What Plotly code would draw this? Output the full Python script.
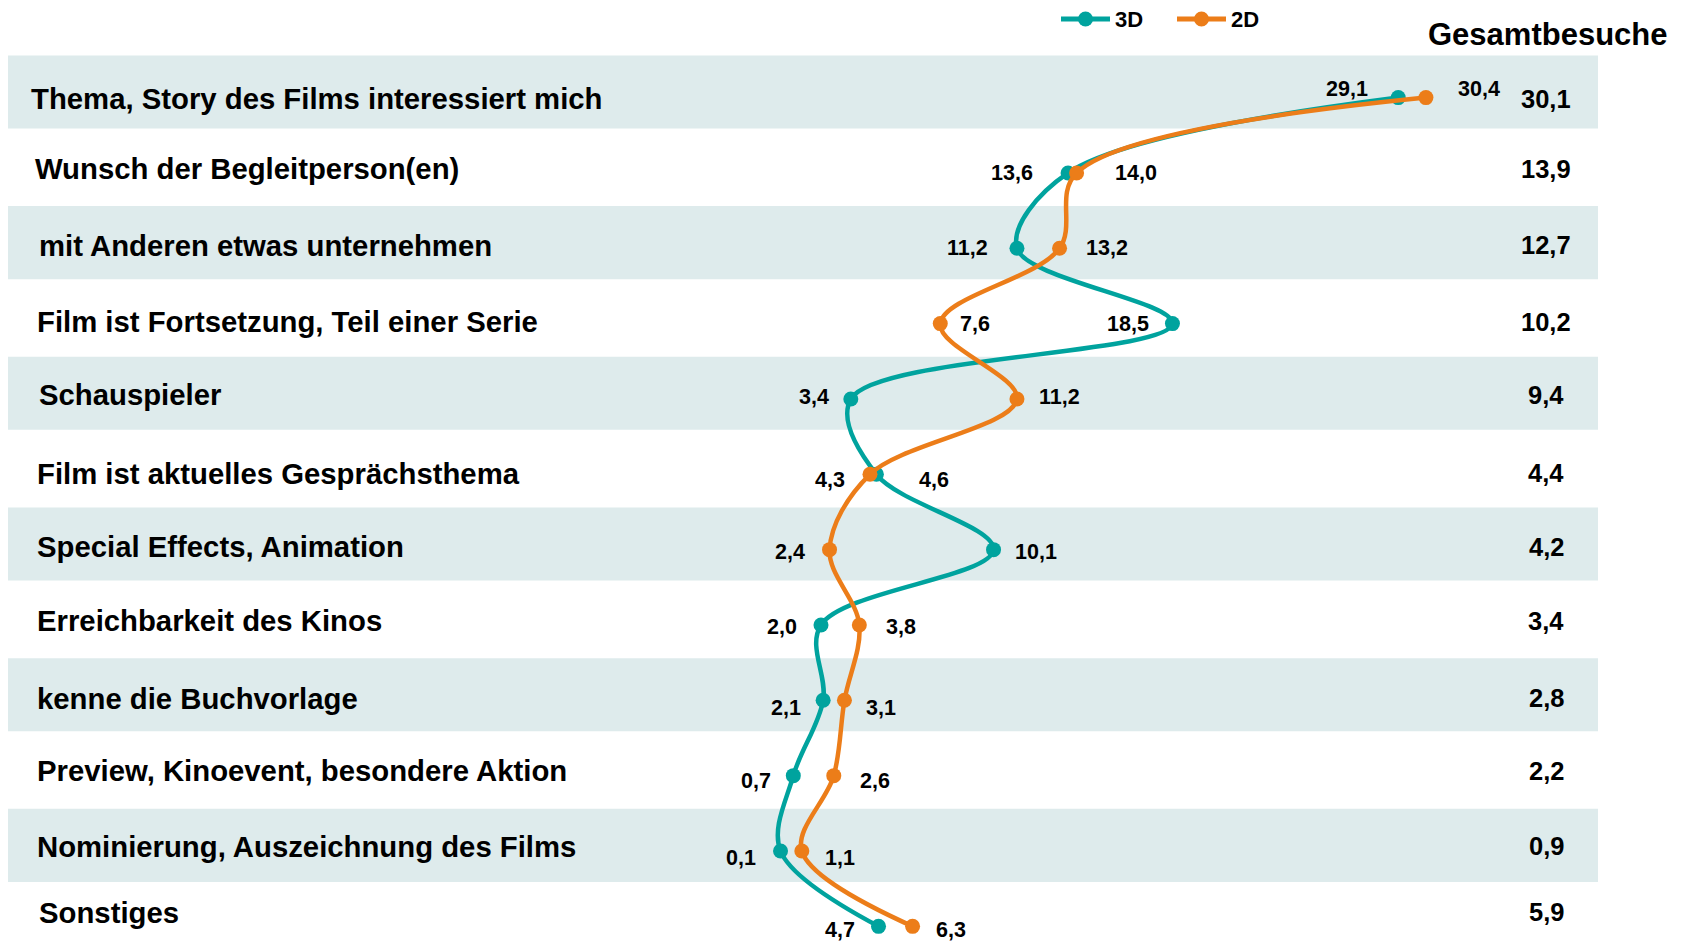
import plotly.graph_objects as go

categories = [
    "Thema, Story des Films interessiert mich",
    "Wunsch der Begleitperson(en)",
    "mit Anderen etwas unternehmen",
    "Film ist Fortsetzung, Teil einer Serie",
    "Schauspieler",
    "Film ist aktuelles Gesprächsthema",
    "Special Effects, Animation",
    "Erreichbarkeit des Kinos",
    "kenne die Buchvorlage",
    "Preview, Kinoevent, besondere Aktion",
    "Nominierung, Auszeichnung des Films",
    "Sonstiges",
]
val_3d = [29.1, 13.6, 11.2, 18.5, 3.4, 4.6, 10.1, 2.0, 2.1, 0.7, 0.1, 4.7]
val_2d = [30.4, 14.0, 13.2, 7.6, 11.2, 4.3, 2.4, 3.8, 3.1, 2.6, 1.1, 6.3]
totals = [30.1, 13.9, 12.7, 10.2, 9.4, 4.4, 4.2, 3.4, 2.8, 2.2, 0.9, 5.9]
total_title = "Gesamtbesuche"
series_names = ["3D", "2D"]

# style lists (label placement)
side_3d = ["l", "l", "l", "l", "l", "r", "r", "l", "l", "l", "l", "l"]
side_2d = ["r", "r", "r", "r", "r", "l", "l", "r", "r", "r", "r", "r"]
gap_3d = [28, 33, 27, 22, 20, 40, 20, 22, 21, 21, 23, 22]
gap_2d = [30, 36, 25, 18, 21, 23, 23, 25, 20, 24, 22, 22]
label_yshift = [9, 0, 0, 0, 2, -6, -2, -2, -8, -5, -7, -4]
cat_xpx = [29, 33, 37, 35, 37, 35, 35, 35, 35, 35, 35, 37]
cat_yshift = [-1, 4, 3, 2, 4, 1, 3, 4, 2, 5, 5, 14]
legend_x0px = [1061, 1177]   # legend entry start (px)

TEAL = "#00A39E"
ORANGE = "#EC7D19"
BAND = "#DEEBEC"
W, H = 1681, 952
FONT = "Liberation Sans"
SC = W / 1568.0

idx = list(range(len(categories)))
colors = [TEAL, ORANGE]

def fmt(v):
    return f"{v:.1f}".replace(".", ",")

fig = go.Figure()
for name, vals, col in zip(series_names, [val_3d, val_2d], colors):
    fig.add_trace(go.Scatter(
        x=vals, y=idx, name=name, mode="lines+markers",
        line=dict(color=col, width=4.5, shape="spline", smoothing=1.0),
        marker=dict(color=col, size=15),
        hoverinfo="skip", showlegend=False,
    ))

shapes = []
for i in idx:
    if i % 2 == 0:
        shapes.append(dict(type="rect", xref="paper", yref="y",
                           x0=8 / W, x1=1598 / W, y0=i - 0.56, y1=i + 0.41,
                           fillcolor=BAND, line=dict(width=0), layer="below"))

ann = []
for i, c in enumerate(categories):
    ann.append(dict(x=cat_xpx[i] / W, xref="paper", y=i, yref="y", text=c,
                    showarrow=False, xanchor="left", yanchor="middle",
                    yshift=cat_yshift[i],
                    font=dict(family=FONT, size=29.3, color="black", weight="bold")))
    ann.append(dict(x=1546 / W, xref="paper", y=i, yref="y", text=fmt(totals[i]),
                    showarrow=False, xanchor="center", yanchor="middle",
                    yshift=cat_yshift[i],
                    font=dict(family=FONT, size=25.5, color="black", weight="bold")))
    for vals, sides, gaps in [(val_3d, side_3d, gap_3d), (val_2d, side_2d, gap_2d)]:
        left = sides[i] == "l"
        g = gaps[i] * SC - 2
        ann.append(dict(x=vals[i], y=i, xref="x", yref="y", text=fmt(vals[i]),
                        showarrow=False, xanchor="right" if left else "left",
                        yanchor="middle", xshift=-g if left else g,
                        yshift=label_yshift[i],
                        font=dict(family=FONT, size=21.5, color="black", weight="bold")))

ann.append(dict(x=1548 / W, xref="paper", y=1 - 35 / H, yref="paper", text=total_title,
                showarrow=False, xanchor="center", yanchor="middle",
                font=dict(family=FONT, size=31, color="black", weight="bold")))

# custom legend (long line symbols)
ly = 1 - 19 / H
for name, col, lx in zip(series_names, colors, legend_x0px):
    shapes.append(dict(type="line", xref="paper", yref="paper",
                       x0=lx / W, x1=(lx + 49) / W, y0=ly, y1=ly,
                       line=dict(color=col, width=5)))
    shapes.append(dict(type="circle", xref="paper", yref="paper",
                       x0=(lx + 24.5 - 7.5) / W, x1=(lx + 24.5 + 7.5) / W,
                       y0=ly - 7.5 / H, y1=ly + 7.5 / H,
                       fillcolor=col, line=dict(width=0)))
    ann.append(dict(x=(lx + 52) / W, xref="paper", y=ly, yref="paper", text=name,
                    showarrow=False, xanchor="left", yanchor="middle",
                    font=dict(family=FONT, size=22, color="black", weight="bold")))

x0px, xscale = 778.4, 21.30
row0, rowh = 97.6, 75.34

fig.update_layout(
    width=W, height=H,
    margin=dict(l=0, r=0, t=0, b=0),
    paper_bgcolor="white", plot_bgcolor="white",
    xaxis=dict(range=[-x0px / xscale, (W - x0px) / xscale], visible=False, fixedrange=True),
    yaxis=dict(range=[11 + (H - (row0 + 11 * rowh)) / rowh, -row0 / rowh], visible=False, fixedrange=True),
    shapes=shapes, annotations=ann,
    showlegend=False,
)

fig.write_html("out.html", config={"displayModeBar": False},
               post_script="document.body.style.margin='0';document.body.style.overflow='hidden';")
